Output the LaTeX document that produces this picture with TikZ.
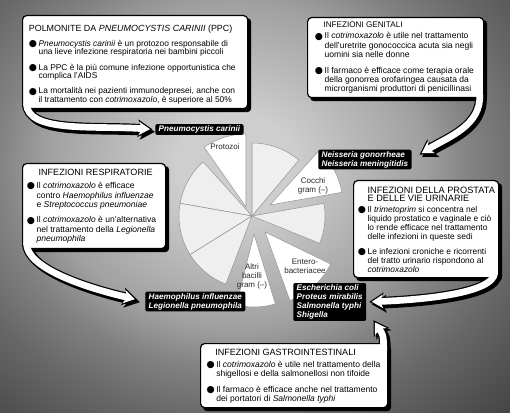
\documentclass[tikz,border=0pt]{standalone}
\usepackage{fontspec}
\setmainfont{Liberation Sans}
\newfontfamily\dejavu{DejaVu Sans}
\usetikzlibrary{arrows.meta,backgrounds}

\definecolor{bgcentre}{RGB}{206,206,206}
\definecolor{bgupper}{RGB}{160,160,160}
\definecolor{bgmid}{RGB}{130,130,130}
\definecolor{bgedge}{RGB}{104,104,104}
\definecolor{bgcorner}{RGB}{62,62,62}
\definecolor{pielight}{RGB}{239,239,239}
\definecolor{pieline}{RGB}{150,150,150}
\definecolor{pietext}{RGB}{40,40,40}

\pgfdeclareradialshading{bgshade}{\pgfpoint{0bp}{0bp}}{color(0bp)=(bgcentre); color(5bp)=(bgcentre); color(16bp)=(bgupper); color(20bp)=(bgmid); color(25bp)=(bgedge); color(35bp)=(bgcorner); color(50bp)=(bgcorner)}

\newcommand{\bitem}[1][4.4pt]{\par\vspace{#1}\noindent\hangindent=7.3pt\hangafter=1\makebox[7.3pt][l]{\raisebox{-0.2pt}{\dejavu\fontsize{7}{7}\selectfont ●}}\ignorespaces}

\tikzset{
  infobox/.style={draw=black, line width=0.9pt, fill=white, rounded corners=3pt, anchor=north west, inner ysep=0pt, execute at begin node={\lineskiplimit=-10pt}},
  labelbox/.style={fill=black, text=white, rounded corners=1.5pt, inner xsep=2.6pt, inner ysep=1.2pt, anchor=west, align=left, font=\fontsize{6.1}{6.8}\selectfont\bfseries\itshape},
  pielabel/.style={text=pietext, align=center, inner sep=0pt, font=\fontsize{6}{6.8}\selectfont},
  pieslice/.style={draw=pieline, line width=0.4pt, line join=round},
  boxshadow/.style={fill=black, rounded corners=3pt},
  tailline/.style={draw=black, line width=6.8pt, shorten >=#1, -{Stealth[length=11pt, width=13.5pt, inset=3pt, line width=0pt]}},
  tailfill/.style={draw=white, line width=5pt, shorten >=#1, -{Stealth[length=8.4pt, width=10.3pt, inset=2.3pt, line width=0pt]}},
}

\begin{document}
\begin{tikzpicture}[x=0.75pt,y=0.75pt,yscale=-1,xscale=1]
\useasboundingbox (0,0) rectangle (510,413);

%Shape: Pie
\begin{scope}[shift={(252,216)}, yscale=-1]
\filldraw[pieslice, fill=pielight] (0,0) -- (50:73) arc[start angle=50, end angle=90, radius=73] -- cycle;
\filldraw[pieslice, fill=pielight] (0,0) -- (132:73) arc[start angle=132, end angle=170, radius=73] -- cycle;
\filldraw[pieslice, fill=pielight] (0,0) -- (170:73) arc[start angle=170, end angle=212, radius=73] -- cycle;
\filldraw[pieslice, fill=pielight] (0,0) -- (212:73) arc[start angle=212, end angle=249, radius=73] -- cycle;
\filldraw[pieslice, fill=pielight] (0,0) -- (338:73) arc[start angle=338, end angle=370, radius=73] -- cycle;
%pulled-out slices
\filldraw[pieslice, fill=white] (-6,9) -- ++(90:73) arc[start angle=90, end angle=125, radius=73] -- cycle;
\filldraw[pieslice, fill=white] (18,11) -- ++(10:73) arc[start angle=10, end angle=48, radius=73] -- cycle;
\filldraw[pieslice, fill=white] (13,-16) -- ++(290:73) arc[start angle=290, end angle=334, radius=73] -- cycle;
\filldraw[pieslice, fill=white] (2,-18) -- ++(256:73) arc[start angle=256, end angle=287, radius=73] -- cycle;
\end{scope}

% Text Node
\node[pielabel] (protozoi) at (225,147) {Protozoi};
% Text Node
\node[pielabel] (cocchi) at (313,186) {Cocchi\\gram (–)};
% Text Node
\node[pielabel] (entero) at (305,266) {Entero-\\bacteriacee};
% Text Node
\node[pielabel] (altri) at (252,276) {Altri\\bacilli\\gram (–)};

% Text Node
\node[infobox, inner xsep=4.7pt] (ppc) at (22,15) {\parbox[t][69.75pt][t]{159.35pt}{%
\vspace*{7pt}{\fontsize{6.7}{7}\selectfont\mbox{POLMONITE DA \textit{PNEUMOCYSTIS CARINII} (PPC)}\par}
\fontsize{6.3}{6.1}\selectfont
\bitem[5.2pt]\textit{Pneumocystis carinii} è un protozoo responsabile di\\una lieve infezione respiratoria nei bambini piccoli
\bitem[5.6pt]La PPC è la più comune infezione opportunistica che\\complica l’AIDS
\bitem[5.6pt]La mortalità nei pazienti immunodepresei, anche con\\il trattamento con \textit{cotrimoxazolo}, è superiore al 50\%}};
% Text Node
\node[infobox, inner xsep=5.5pt] (gen) at (307,17) {\parbox[t][60pt][t]{121pt}{%
\vspace*{2.9pt}{\fontsize{6.1}{7}\selectfont\hspace*{6.5pt}\mbox{INFEZIONI GENITALI}\par}
\fontsize{6.4}{7.1}\selectfont
\bitem[1.6pt]Il \textit{cotrimoxazolo} è utile nel trattamento\\dell’uretrite gonococcica acuta sia negli\\uomini sia nelle donne
\bitem[4.4pt]Il farmaco è efficace come terapia orale\\della gonorrea orofaringea causata da\\microrganismi produttori di penicillinasi}};
% Text Node
\node[infobox, inner xsep=3.2pt] (res) at (22,163) {\parbox[t][63.75pt][t]{100.85pt}{%
\vspace*{4.1pt}{\fontsize{6.8}{7}\selectfont\hspace*{8.8pt}\mbox{INFEZIONI RESPIRATORIE}\par}
\fontsize{6.4}{7.1}\selectfont
\bitem[2.9pt]Il \textit{cotrimoxazolo} è efficace\\contro \textit{Haemophilus influenzae}\\e \textit{Streptococcus pneumoniae}
\bitem[4.4pt]Il \textit{cotrimoxazolo} è un’alternativa\\nel trattamento della \textit{Legionella}\\\textit{pneumophila}}};
% Text Node
\node[infobox, inner xsep=3.2pt] (pro) at (353,180) {\parbox[t][72.75pt][t]{102.35pt}{%
\vspace*{4.8pt}{\fontsize{6.9}{6.3}\selectfont\hspace*{7.3pt}\mbox{INFEZIONI DELLA PROSTATA}\\\hspace*{7.3pt}\mbox{E DELLE VIE URINARIE}\par}
\fontsize{6.3}{6.7}\selectfont
\bitem[1.3pt]Il \textit{trimetoprim} si concentra nel\\liquido prostatico e vaginale e ciò\\lo rende efficace nel trattamento\\delle infezioni in queste sedi
\bitem[4.8pt]Le infezioni croniche e ricorrenti\\del tratto urinario rispondono al\\\textit{cotrimoxazolo}}};
% Text Node
\node[infobox, inner xsep=4.5pt] (gi) at (200,343) {\parbox[t][48pt][t]{131.25pt}{%
\vspace*{4.1pt}{\fontsize{6.8}{7}\selectfont\hspace*{6.5pt}\mbox{INFEZIONI GASTROINTESTINALI}\par}
\fontsize{6.4}{6.75}\selectfont
\bitem[2pt]Il \textit{cotrimoxazolo} è utile nel trattamento della\\shigellosi e della salmonellosi non tifoide
\bitem[5.7pt]Il farmaco è efficace anche nel trattamento\\dei portatori di \textit{Salmonella typhi}}};

% Text Node
\node[labelbox] (pc) at (155,129.5) {Pneumocystis carinii};
% Text Node
\node[labelbox] (ng) at (318,159.5) {Neisseria gonorrheae\\Neisseria meningitidis};
% Text Node
\node[labelbox] (hi) at (145,301.5) {Haemophilus influenzae\\Legionella pneumophila};
% Text Node
\node[labelbox] (ec) at (293,302) {Escherichia coli\\Proteus mirabilis\\Salmonella typhi\\Shigella};

\begin{pgfonlayer}{background}
\shade[shading=bgshade] (-60,-90) rectangle (530,420);
%box shadows
\fill[boxshadow] ([shift={(3,3)}]ppc.north west) rectangle ([shift={(3,3)}]ppc.south east);
\fill[boxshadow] ([shift={(3,3)}]gen.north west) rectangle ([shift={(3,3)}]gen.south east);
\fill[boxshadow] ([shift={(3,3)}]res.north west) rectangle ([shift={(3,3)}]res.south east);
\fill[boxshadow] ([shift={(3,3)}]pro.north west) rectangle ([shift={(3,3)}]pro.south east);
\fill[boxshadow] ([shift={(3,3)}]gi.north west) rectangle ([shift={(3,3)}]gi.south east);
%Curve Lines, shadows
\draw[tailline=2pt] ([shift={(7,-3.5)}]ppc.south west) .. controls +(0,30) and +(-60,-4) .. ([shift={(2.5,2.5)}]pc.west);
\draw[tailline=7pt] ([shift={(-2,-1.5)}]gen.south east) .. controls +(2,32) and +(35,-22) .. ([shift={(2.5,2.5)}]ng.east);
\draw[tailline=6pt] ([shift={(7,-3.5)}]res.south west) .. controls +(0,25) and +(-60,-14) .. ([shift={(2.5,2.5)}]hi.west);
\draw[tailline=2.2pt] ([shift={(-2,-3.5)}]pro.south east) .. controls +(0,22) and +(50,-2) .. ([shift={(2.5,2.5)}]ec.east);
\draw[tailline=0pt] ([shift={(-2,10.5)}]gi.north east) .. controls +(0,-18) and +(9,14) .. ([shift={(9.5,1.5)}]ec.south east);
%Curve Lines, outlines
\draw[tailline=2pt] ([shift={(4.5,-6)}]ppc.south west) .. controls +(0,30) and +(-60,-4) .. (pc.west);
\draw[tailline=7pt] ([shift={(-4.5,-4)}]gen.south east) .. controls +(2,32) and +(35,-22) .. (ng.east);
\draw[tailline=6pt] ([shift={(4.5,-6)}]res.south west) .. controls +(0,25) and +(-60,-14) .. (hi.west);
\draw[tailline=2.2pt] ([shift={(-4.5,-6)}]pro.south east) .. controls +(0,22) and +(50,-2) .. (ec.east);
\draw[tailline=0pt] ([shift={(-4.5,8)}]gi.north east) .. controls +(0,-18) and +(9,14) .. ([shift={(7,-1)}]ec.south east);
\end{pgfonlayer}

%Curve Lines, white insides
\draw[tailfill=3.8pt] ([shift={(4.5,-6)}]ppc.south west) .. controls +(0,30) and +(-60,-4) .. (pc.west);
\draw[tailfill=8.8pt] ([shift={(-4.5,-4)}]gen.south east) .. controls +(2,32) and +(35,-22) .. (ng.east);
\draw[tailfill=7.8pt] ([shift={(4.5,-6)}]res.south west) .. controls +(0,25) and +(-60,-14) .. (hi.west);
\draw[tailfill=4pt] ([shift={(-4.5,-6)}]pro.south east) .. controls +(0,22) and +(50,-2) .. (ec.east);
\draw[tailfill=1.8pt] ([shift={(-4.5,8)}]gi.north east) .. controls +(0,-18) and +(9,14) .. ([shift={(7,-1)}]ec.south east);

\end{tikzpicture}
\end{document}
